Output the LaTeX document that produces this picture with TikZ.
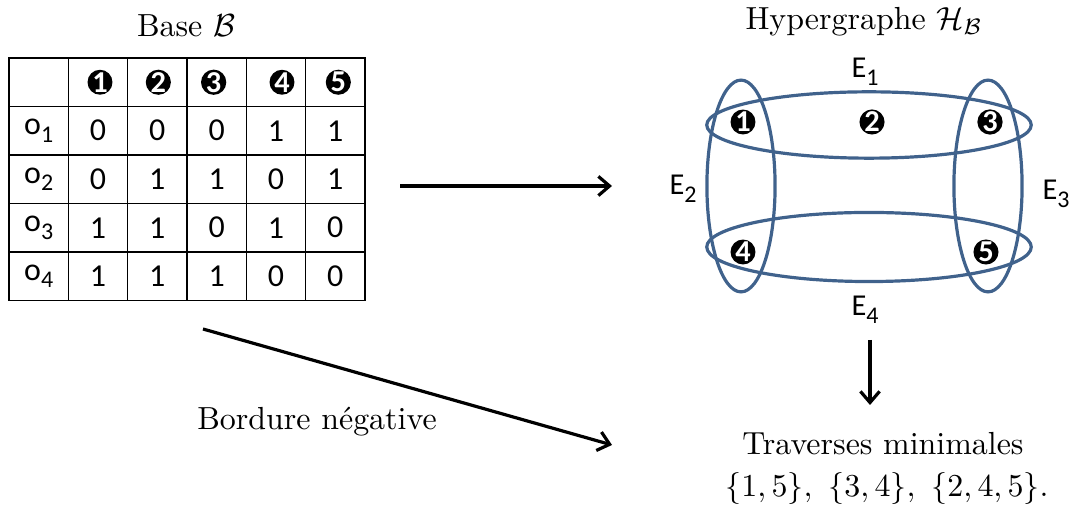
\documentclass[tikz,border=0pt]{standalone}
\usepackage{fontspec}
\newfontfamily\carlito{Carlito}
\usepackage{xcolor}
\definecolor{edgeblue}{RGB}{64,98,140}
\usepackage{tikz}
\usetikzlibrary{arrows.meta,positioning,shapes.geometric}
\newcommand{\tabfont}{\carlito\fontsize{10}{12}\selectfont}
\newcommand{\labfont}{\carlito\fontsize{9.5}{11}\selectfont}
\newcommand{\vtxfont}{\carlito\bfseries\fontsize{9.5}{10}\selectfont}
\newcommand{\lowsub}[1]{\raisebox{-0.5ex}{\fontsize{7.5}{8}\selectfont#1}}
\tikzset{
  >={Straight Barb[length=3.5pt,width=6pt]},
  cell/.style={rectangle,draw,line width=0.4pt,minimum width=0.653cm,minimum height=0.534cm,inner sep=0pt,font=\tabfont},
  vertex/.style={circle,fill=black,text=white,inner sep=0pt,minimum size=0.27cm,font=\vtxfont},
  hyperedge/.style={ellipse,draw=edgeblue,line width=1pt,inner sep=0pt},
  elabel/.style={anchor=base,font=\labfont},
  link/.style={->,line width=1pt}
}

\begin{document}
\begin{tikzpicture}[x=0.011cm,y=-0.011cm]
  \useasboundingbox (0,0) rectangle (1070,510);

  % base B
  \node[anchor=base] (basetitle) at (186,37) {Base $\mathcal{B}$};
  \node[cell] (corner) at (38.7,82.25) {};
  \foreach \c/\dx in {1/2,2/1,3/-3,4/6,5/3} {
    \node[cell] (h\c) at ({9+59.33*(\c+0.5)},82.25) {};
    \node[vertex,xshift=\dx*0.011cm] (hv\c) at (h\c) {\c};
  }
  \foreach \row [count=\r] in {{0,0,0,1,1},{0,1,1,0,1},{1,1,0,1,0},{1,1,1,0,0}} {
    \node[cell] (o\r) at (38.7,{58+48.5*(\r+0.5)}) {o\lowsub{\r}};
    \foreach \v [count=\c] in \row
      \node[cell] (t\r\c) at ({9+59.33*(\c+0.5)},{58+48.5*(\r+0.5)}) {\v};
  }

  % hypergraphe
  \node[anchor=base] (hgtitle) at (864,30) {Hypergraphe $\mathcal{H}_{\mathcal{B}}$};
  \node[hyperedge,minimum width=3.57cm,minimum height=0.73cm] (e1) at (869,125) {};
  \node[hyperedge,minimum width=3.57cm,minimum height=0.76cm] (e4) at (869,247) {};
  \node[hyperedge,minimum width=0.75cm,minimum height=2.33cm] (e2) at (741,186) {};
  \node[hyperedge,minimum width=0.75cm,minimum height=2.33cm] (e3) at (988,186) {};
  \node[vertex] (v1) at (743,122) {1};
  \node[vertex] (v2) at (872,122) {2};
  \node[vertex] (v3) at (990,122) {3};
  \node[vertex] (v4) at (743,252) {4};
  \node[vertex] (v5) at (986,252) {5};
  \node[elabel] (l1) at (865,78) {E\lowsub{1}};
  \node[elabel] (l2) at (683,195) {E\lowsub{2}};
  \node[elabel] (l3) at (1056,200) {E\lowsub{3}};
  \node[elabel] (l4) at (865,316) {E\lowsub{4}};

  % traverses
  \node[anchor=base] (bordure) at (317,430) {Bordure négative};
  \node[anchor=base] (trav) at (883,455) {Traverses minimales};
  \node[anchor=base] (sets) at (887,497) {$\{1,5\},\ \{3,4\},\ \{2,4,5\}.$};

  \coordinate (a1) at (400,186);
  \coordinate (b1) at (612,186);
  \coordinate (a2) at (203,329);
  \coordinate (b2) at (612,445);
  \coordinate (a3) at (870,340);
  \coordinate (b3) at (870,405);
  \draw[link] (a1) -- (b1);
  \draw[link] (a2) -- (b2);
  \draw[link] (a3) -- (b3);
\end{tikzpicture}
\end{document}
